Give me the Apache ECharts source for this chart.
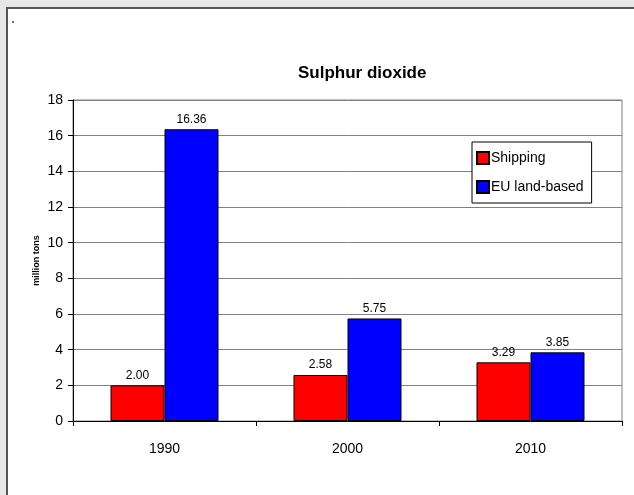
<!DOCTYPE html>
<html>
<head>
<meta charset="utf-8">
<script src="https://cdn.jsdelivr.net/npm/echarts@6/dist/echarts.min.js"></script>
<style>
  html, body { margin: 0; padding: 0; }
  #chart { width: 634px; height: 495px; }
</style>
</head>
<body>
<div id="chart"></div>
<script>
// chart data
var years = ['1990', '2000', '2010'];
var shipping = [2.00, 2.58, 3.29];
var euLand = [16.36, 5.75, 3.85];
var yMin = 0, yMax = 18, yStep = 2;

initChart();

function initChart() {
    var myChart = echarts.init(document.getElementById('chart'));
    var font = 'Arial, "Liberation Sans", sans-serif';
    var label = {
        show: true,
        position: 'top',
        distance: 4,
        color: '#000',
        fontFamily: font,
        fontSize: 12,
        formatter: function(p) { return p.value.toFixed(2); }
    };
    var option = {
        backgroundColor: '#e6e7e9',
        animation: false,
        textStyle: { fontFamily: font },
        title: {
            text: 'Sulphur dioxide',
            left: 293,
            top: 60,
            textStyle: { fontSize: 17, fontWeight: 'bold', color: '#000', fontFamily: font }
        },
        graphic: [{
            type: 'rect',
            z: -10,
            shape: { x: 7, y: 8, width: 640, height: 500 },
            style: { fill: '#fff', stroke: '#555', lineWidth: 2 }
        }, {
            type: 'rect',
            z: -9,
            shape: { x: 12, y: 21, width: 2, height: 2 },
            style: { fill: '#777' }
        }],
        legend: {
            orient: 'vertical',
            left: 472,
            top: 142,
            padding: [9, 8, 9, 4],
            itemGap: 15,
            itemWidth: 12,
            itemHeight: 12,
            icon: 'rect',
            backgroundColor: '#fff',
            borderColor: '#000',
            borderWidth: 1,
            textStyle: { fontSize: 14, color: '#000', fontFamily: font, padding: [0, 0, 0, -3] },
            data: ['Shipping', 'EU land-based']
        },
        grid: {
            left: 73,
            right: 12,
            top: 100,
            bottom: 74,
            show: true,
            borderColor: '#808080',
            borderWidth: 1,
            backgroundColor: 'transparent'
        },
        xAxis: {
            type: 'category',
            data: years,
            boundaryGap: true,
            axisLine: { lineStyle: { color: '#000', width: 1 } },
            axisTick: { show: true, alignWithLabel: false, length: 5, lineStyle: { color: '#000' } },
            axisLabel: { color: '#000', fontSize: 14, margin: 21, fontFamily: font }
        },
        yAxis: {
            type: 'value',
            min: yMin,
            max: yMax,
            interval: yStep,
            name: 'million tons',
            nameLocation: 'middle',
            nameGap: 32,
            nameMoveOverlap: false,
            nameTextStyle: { fontSize: 9, fontWeight: 'bold', color: '#000', fontFamily: font },
            axisLine: { show: true, lineStyle: { color: '#000', width: 1 } },
            axisTick: { show: true, length: 5, lineStyle: { color: '#000' } },
            axisLabel: { color: '#000', fontSize: 14, margin: 10, fontFamily: font },
            splitLine: { show: true, lineStyle: { color: '#808080', width: 1 } }
        },
        series: [{
            name: 'Shipping',
            type: 'bar',
            data: shipping,
            barGap: 0,
            barCategoryGap: '41%',
            itemStyle: { color: '#ff0000', borderColor: '#000', borderWidth: 1 },
            label: label
        }, {
            name: 'EU land-based',
            type: 'bar',
            data: euLand,
            barGap: 0,
            barCategoryGap: '41%',
            itemStyle: { color: '#0000ff', borderColor: '#000', borderWidth: 1 },
            label: label
        }]
    };
    myChart.setOption(option);
}
</script>
</body>
</html>
